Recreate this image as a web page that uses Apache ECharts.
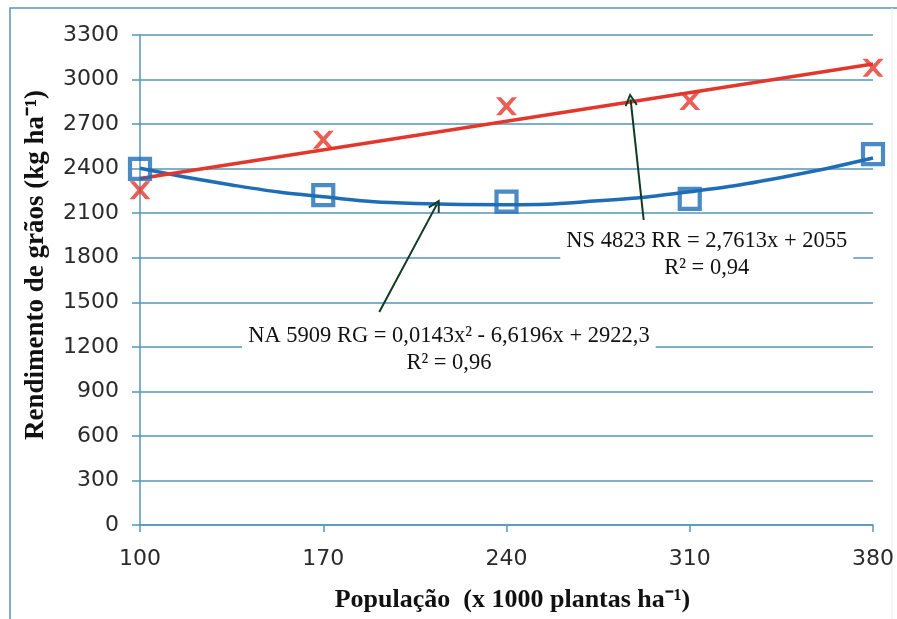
<!DOCTYPE html>
<html>
<head>
<meta charset="utf-8">
<script src="https://cdn.jsdelivr.net/npm/echarts@6/dist/echarts.min.js"></script>
<style>
html,body{margin:0;padding:0;background:#fff;}
#chart{width:897px;height:619px;}
</style>
</head>
<body>
<div id="chart"></div>
<script>
// ---- data ----
var populations = [100, 170, 240, 310, 380];
var rrObserved = [2255, 2595, 2820, 2855, 3080];   // NS 4823 (red x)
var rgObserved = [2398, 2222, 2178, 2196, 2498];   // NA 5909 (blue squares)
// trend lines
var rrTrendX = [100, 380];
var rrTrendY = [2333, 3105];
var rgTrendX = [100, 135, 170, 205, 240, 275, 310, 345, 380];
var rgTrendY = [2403, 2290, 2210, 2166, 2157, 2183, 2244, 2340, 2472];
var yTicks = {min: 0, max: 3300, step: 300};
var xTicks = {min: 100, max: 380, step: 70};
var rrLabel = ['NS 4823 RR = 2,7613x + 2055', 'R² = 0,94'];
var rgLabel = ['NA 5909 RG = 0,0143x² - 6,6196x + 2922,3', 'R² = 0,96'];
var arrowRR = [[292.4, 2054], [287.4, 2866]];
var arrowRG = [[191.4, 1434], [213.3, 2156]];
var rrLabelAt = [316.5, 1818];
var rgLabelAt = [218, 1178];

function pairs(xs, ys){ return xs.map(function(x,i){ return [x, ys[i]]; }); }

var gridBlue = '#5596b8';
var red = '#e2372c';
var blue = '#1e6db6';
var xPath = 'path://M0,0 L5,0 L10.5,6 L16,0 L21,0 L13.2,9 L21,18 L16,18 L10.5,12 L5,18 L0,18 L7.8,9 Z';
var openArrow = 'path://M0,11 L6,0 L12,11 L10.4,11.8 L6,3.6 L1.6,11.8 Z';

function plain(v){ return String(v); }

var chart = echarts.init(document.getElementById('chart'), null, {renderer:'canvas'});
chart.setOption({
  animation: false,
  backgroundColor: '#fff',
  grid: {left: 140, right: 21, top: 35, bottom: 94},
  xAxis: {
    type: 'value', min: xTicks.min, max: xTicks.max, interval: xTicks.step,
    name: 'População  (x 1000 plantas ha⁻¹)',
    nameLocation: 'middle', nameGap: 62,
    nameTextStyle: {fontFamily: 'Liberation Serif', fontWeight: 'bold', fontSize: 26, color: '#111', padding: [0, 0, 0, 12]},
    axisLine: {show: true, lineStyle: {color: gridBlue, width: 1.5}},
    axisTick: {show: true, length: 7, lineStyle: {color: gridBlue, width: 1.5}},
    axisLabel: {fontFamily: 'DejaVu Sans', fontSize: 22, color: '#2a2a2a', margin: 23, formatter: plain},
    splitLine: {show: false}
  },
  yAxis: {
    type: 'value', min: yTicks.min, max: yTicks.max, interval: yTicks.step,
    name: 'Rendimento de grãos (kg ha⁻¹)',
    nameLocation: 'middle', nameGap: 90, nameRotate: 90,
    nameTextStyle: {fontFamily: 'Liberation Serif', fontWeight: 'bold', fontSize: 27, color: '#111', padding: [0, 0, 0, 30]},
    axisLine: {show: true, lineStyle: {color: gridBlue, width: 1.5}},
    axisTick: {show: true, length: 8, lineStyle: {color: gridBlue, width: 1.5}},
    axisLabel: {fontFamily: 'DejaVu Sans', fontSize: 22, color: '#2a2a2a', margin: 21, formatter: plain},
    splitLine: {show: true, lineStyle: {color: gridBlue, width: 1.5}}
  },
  graphic: [
    {type: 'rect', shape: {x: 10, y: 8, width: 950, height: 700}, style: {fill: null, stroke: gridBlue, lineWidth: 1.5}, z: 0, silent: true},
    {type: 'line', shape: {x1: 892, y1: 8, x2: 892, y2: 619}, style: {stroke: '#ececf0', lineWidth: 1}, silent: true}
  ],
  series: [
    {
      name: 'RG trend', type: 'line', data: pairs(rgTrendX, rgTrendY), smooth: true,
      showSymbol: false, symbol: 'none', lineStyle: {color: blue, width: 3.5}, z: 3,
      markLine: {
        silent: true, symbol: ['none', openArrow], symbolSize: 13,
        lineStyle: {color: '#0f3b22', width: 2, type: 'solid'},
        label: {show: false},
        data: [[{coord: arrowRG[0]}, {coord: arrowRG[1]}]]
      }
    },
    {
      name: 'RR trend', type: 'line', data: pairs(rrTrendX, rrTrendY),
      showSymbol: false, symbol: 'none', lineStyle: {color: red, width: 3.5}, z: 3,
      markLine: {
        silent: true, symbol: ['none', openArrow], symbolSize: 13,
        lineStyle: {color: '#0f3b22', width: 2, type: 'solid'},
        label: {show: false},
        data: [[{coord: arrowRR[0]}, {coord: arrowRR[1]}]]
      }
    },
    {
      name: 'NA 5909', type: 'scatter', data: pairs(populations, rgObserved),
      symbol: 'rect', symbolSize: 20,
      itemStyle: {color: 'rgba(255,255,255,0)', borderColor: blue, borderWidth: 4.2}, z: 5
    },
    {
      name: 'NS 4823', type: 'scatter', data: pairs(populations, rrObserved),
      symbol: xPath, symbolSize: [21, 18],
      itemStyle: {color: red}, z: 5
    },
    {
      name: 'labels', type: 'scatter', data: [], z: 6,
      markPoint: {
        silent: true, symbol: 'rect', symbolSize: 0,
        data: [
          {coord: rrLabelAt, value: 0,
            label: {show: true, formatter: rrLabel.join('\n'), fontFamily: 'Liberation Serif', fontSize: 22.5, lineHeight: 27,
              color: '#111', align: 'center', verticalAlign: 'middle', backgroundColor: '#fff', padding: [0, 6, 0, 6]}},
          {coord: rgLabelAt, value: 0,
            label: {show: true, formatter: rgLabel.join('\n'), fontFamily: 'Liberation Serif', fontSize: 22.5, lineHeight: 27,
              color: '#111', align: 'center', verticalAlign: 'middle', backgroundColor: '#fff', padding: [0, 6, 0, 6]}}
        ]
      }
    }
  ]
});
</script>
</body>
</html>
